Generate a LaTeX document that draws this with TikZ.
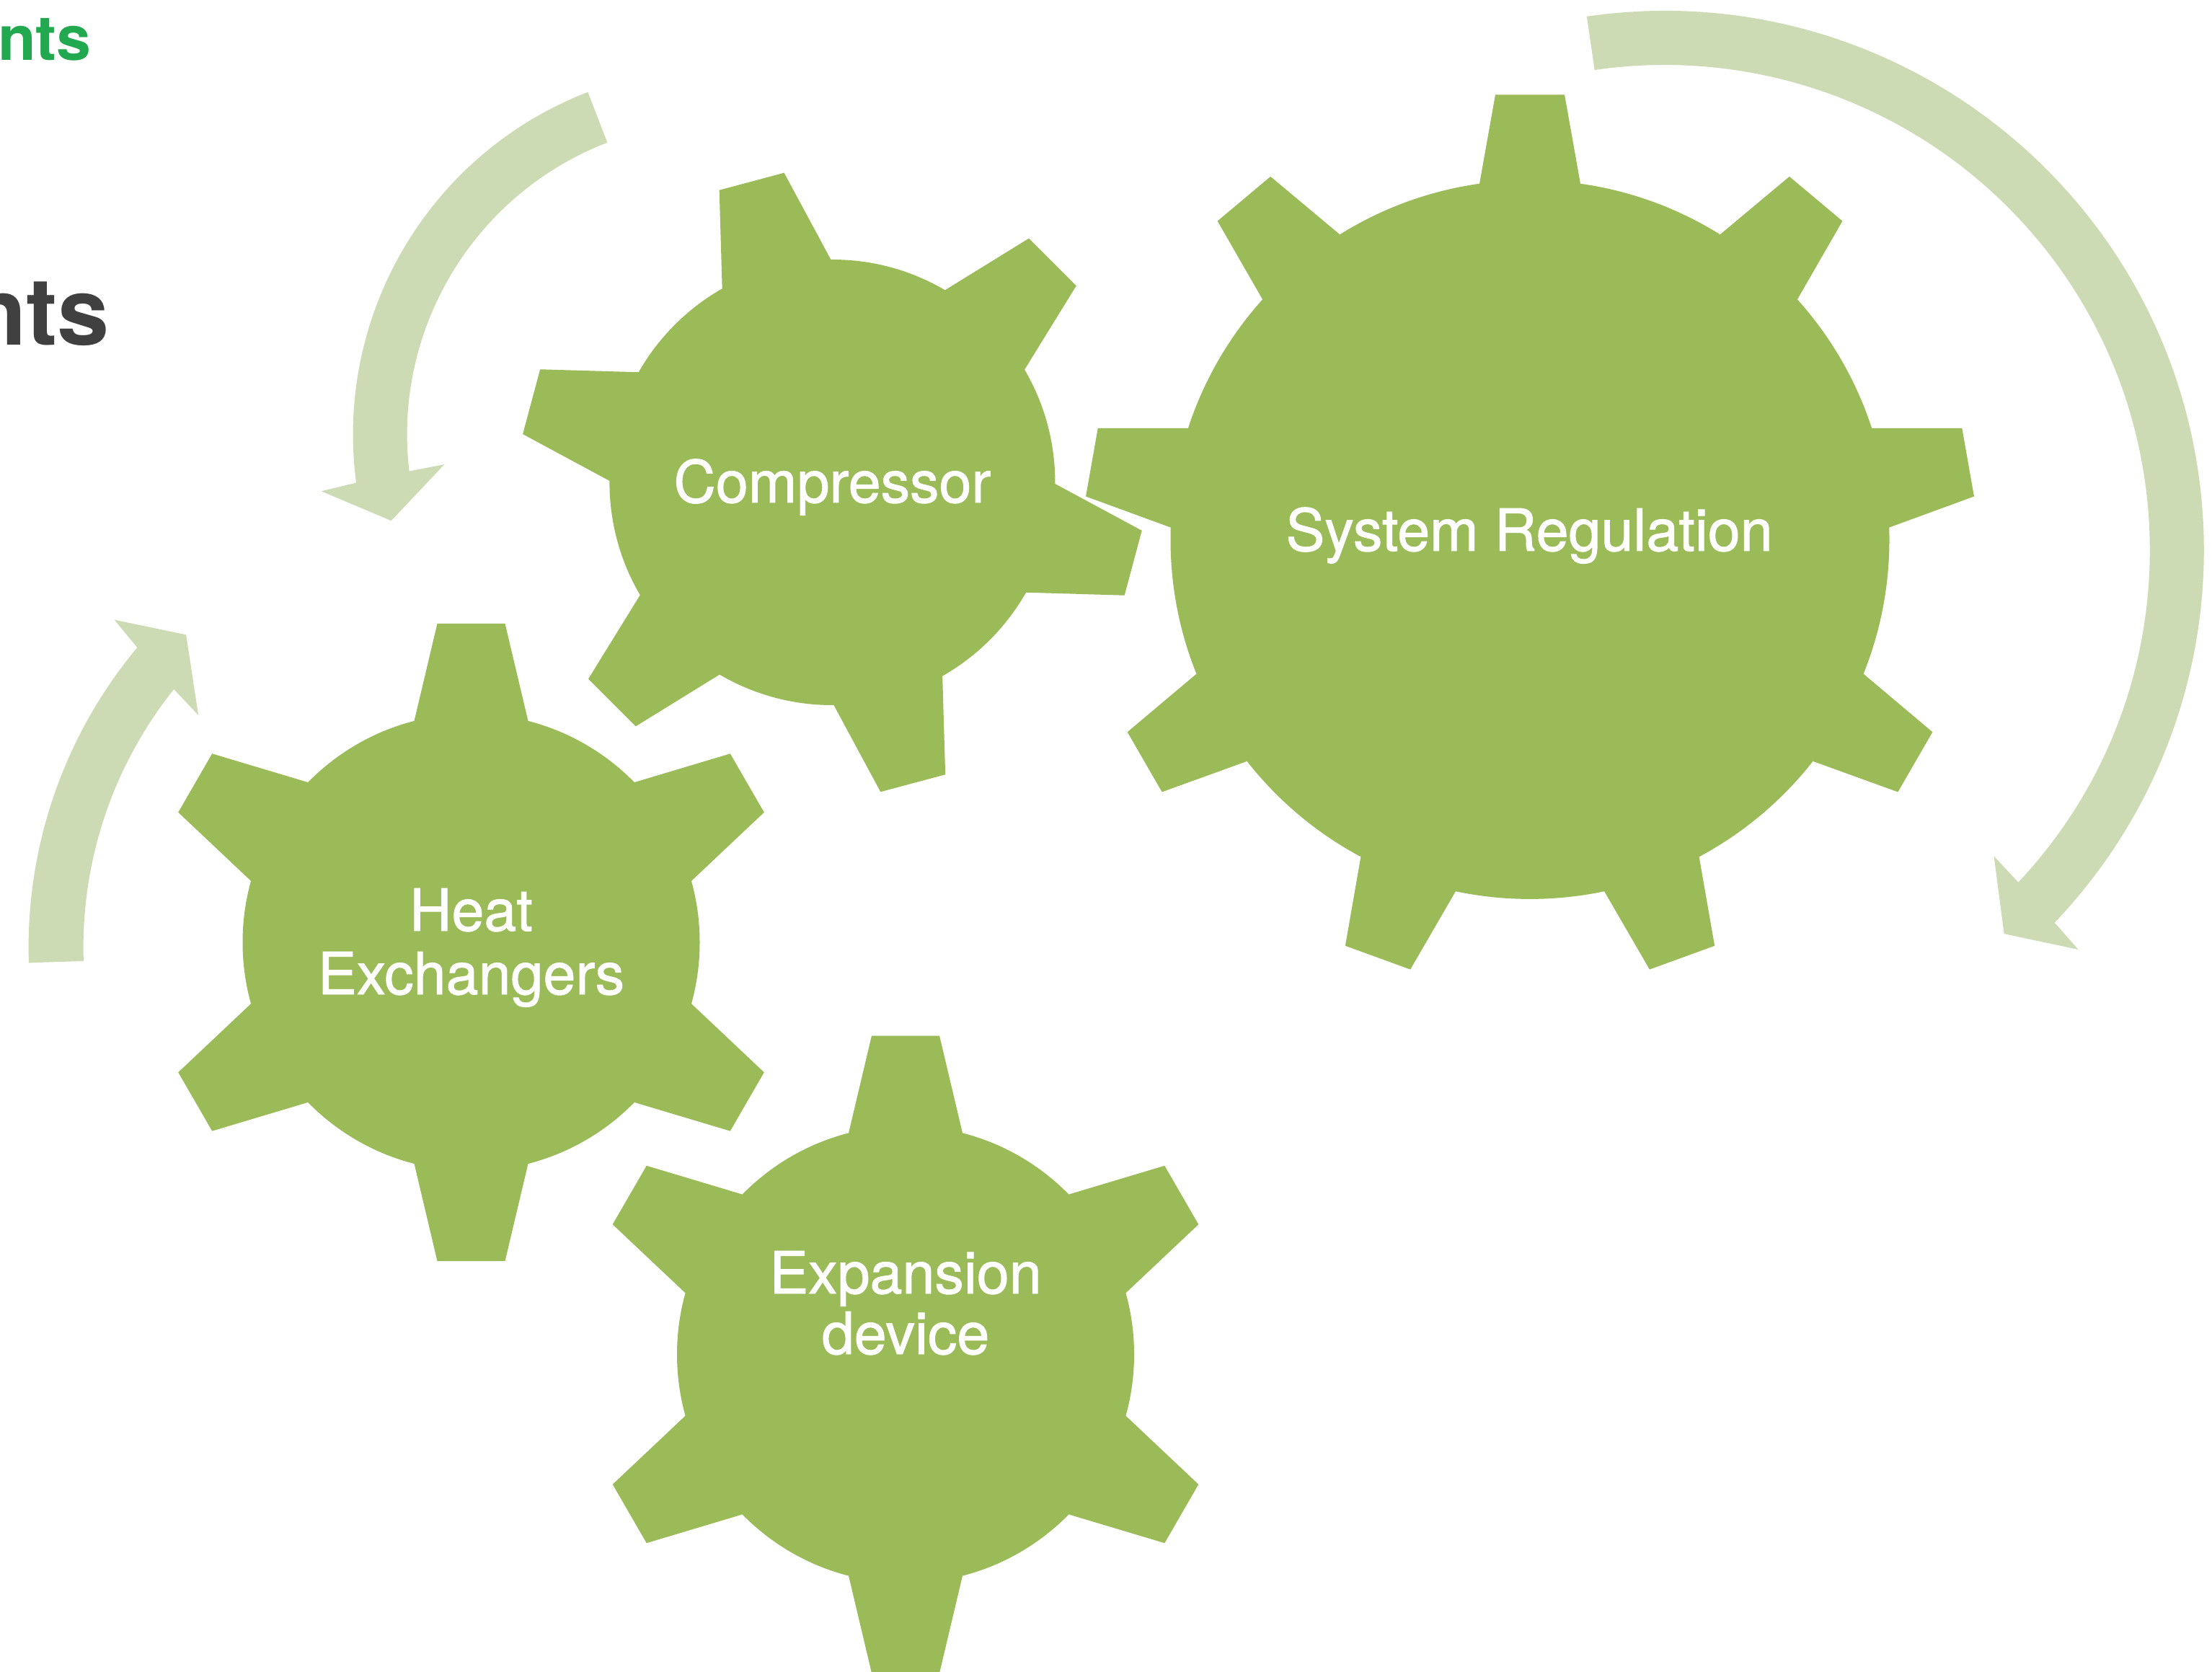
\documentclass[tikz,border=0pt]{standalone}
\usepackage{fontspec}
\setmainfont{TeX Gyre Heros}
\newfontfamily\gearlabelfont[FakeBold=1.2]{TeX Gyre Heros}

\definecolor{geargreen}{RGB}{155,187,89}
\definecolor{cyclegreen}{RGB}{205,219,181}
\definecolor{titlegreen}{RGB}{34,168,78}
\definecolor{titlegray}{RGB}{64,64,64}

\tikzset{
  gearbody/.style={fill=geargreen},
  cyclefill/.style={fill=cyclegreen},
  gearlabel/.style={text=white, font=\gearlabelfont\fontsize{23}{27.6}\selectfont, anchor=base, inner sep=0pt},
  titletext/.style={anchor=base east, inner sep=0pt, font=\bfseries}
}

% gear wheel: centre x, centre y, body radius, tip radius,
% tip half-width, root half-width, number of teeth, angle of first tooth
\newcommand{\gearwheel}[8]{%
  \fill[gearbody] (#1,#2) circle[radius=#3];
  \pgfmathsetmacro{\gearrootdist}{sqrt((#3)*(#3)-(#6)*(#6))}
  \foreach \k in {1,...,#7}{
    \fill[gearbody, shift={(#1,#2)}, rotate={#8+(\k-1)*360/#7}]
      (\gearrootdist,-#6) -- (#4,-#5) -- (#4,#5) -- (\gearrootdist,#6) -- cycle;
  }
}

% curved block arrow: centre x, centre y, mid radius, shaft half-width,
% head half-width, tail angle, outer barb angle, inner barb angle, tip angle
\newcommand{\cyclearrow}[9]{%
  \pgfmathsetmacro{\cycRo}{#3+#4}\pgfmathsetmacro{\cycRi}{#3-#4}
  \pgfmathsetmacro{\cycHo}{#3+#5}\pgfmathsetmacro{\cycHi}{#3-#5}
  \pgfmathsetmacro{\cycNo}{#7+(#8-#7)*(#5-#4)/(2*#5)}
  \pgfmathsetmacro{\cycNi}{#7+(#8-#7)*(#5+#4)/(2*#5)}
  \fill[cyclefill, shift={(#1,#2)}]
    (#6:\cycRo) arc[start angle=#6, end angle=\cycNo, radius=\cycRo]
    -- (#7:\cycHo) -- (#9:#3) -- (#8:\cycHi) -- (\cycNi:\cycRi)
    arc[start angle=\cycNi, end angle=#6, radius=\cycRi] -- cycle;
}

\begin{document}
\begin{tikzpicture}
  \useasboundingbox (0,0) rectangle (30.68,-23.19);
  \clip (0,0) rectangle (30.68,-23.19);
  \fill[white] (0,0) rectangle (30.68,-23.19);

  % title fragments at the left margin
  \node[titletext, text=titlegreen, font=\bfseries\fontsize{24.5}{29}\selectfont] (titletop) at (1.27,-0.84) {nts};
  \node[titletext, text=titlegray, font=\bfseries\fontsize{37}{44}\selectfont] (titlemain) at (1.53,-4.783) {nts};

  % circulating arrows
  \cyclearrow{9.986}{-6.026}{4.715}{0.375}{0.87}{111.1}{188.1}{186.2}{194.7}
  \cyclearrow{6.886}{-13.139}{6.11}{0.38}{0.87}{181.9}{139.4}{142.1}{134.8}
  \cyclearrow{23.088}{-7.63}{7.105}{0.375}{0.87}{98.3}{-44.0}{-42.9}{-48.5}

  % gears
  \gearwheel{11.544}{-6.69}{3.09}{4.32}{0.465}{0.78}{6}{105}
  \gearwheel{21.22}{-7.484}{4.985}{6.17}{0.48}{0.70}{9}{90}
  \gearwheel{6.535}{-13.07}{3.17}{4.42}{0.47}{0.79}{6}{30}
  \gearwheel{12.56}{-18.785}{3.17}{4.42}{0.47}{0.79}{6}{30}

  % gear labels
  \node[gearlabel] (compressor) at (11.544,-6.97) {Compressor};
  \node[gearlabel] (sysreg) at (21.21,-7.64) {System Regulation};
  \node[gearlabel] (heat) at (6.535,-12.91) {Heat};
  \node[gearlabel] (exchangers) at (6.535,-13.79) {Exchangers};
  \node[gearlabel] (expansion) at (12.56,-17.94) {Expansion};
  \node[gearlabel] (device) at (12.56,-18.78) {device};
\end{tikzpicture}
\end{document}
